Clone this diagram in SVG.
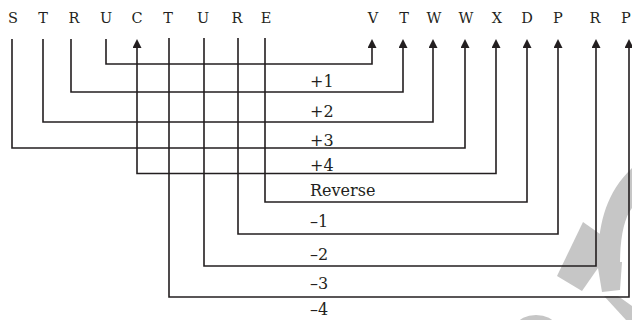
<svg xmlns="http://www.w3.org/2000/svg" width="632" height="320" viewBox="0 0 632 320">
<style>
.ln{fill:none;stroke:#231f20;stroke-width:1.6}
.ar{marker-end:url(#ah)}
.top{font-family:"DejaVu Serif","Liberation Serif",serif;font-size:14.5px;fill:#231f20;text-anchor:middle}
.lbl{font-family:"DejaVu Serif","Liberation Serif",serif;font-size:16px;fill:#231f20}
.wm{fill:#c6c6c6}
</style>
<defs>
<marker id="ah" markerUnits="userSpaceOnUse" viewBox="0 0 9 9" refX="0" refY="4.5" markerWidth="9" markerHeight="9" orient="auto-start-reverse">
<path d="M0,0 L9,4.5 L0,9 z" fill="#231f20"/>
</marker>
</defs>
<rect width="632" height="320" fill="#ffffff"/>
<g id="watermark">
<path class="wm" d="M597,265 C599,225 604,195 632,168 L632,208 C624,218 620,238 620,265 Z"/>
<polygon class="wm" points="583,222 600,234 598,268 582,291 557,276"/>
<polygon class="wm" points="597,262 622,262 620,290 602,292"/>
<polygon class="wm" points="604,296 618,296 632,306 632,320 626,320"/>
<ellipse class="wm" cx="536" cy="324" rx="18" ry="9"/>
</g>
<g id="source-letters">
<text class="top" x="13" y="23">S</text>
<text class="top" x="43" y="23">T</text>
<text class="top" x="74" y="23">R</text>
<text class="top" x="106" y="23">U</text>
<text class="top" x="137" y="23">C</text>
<text class="top" x="168" y="23">T</text>
<text class="top" x="203" y="23">U</text>
<text class="top" x="237" y="23">R</text>
<text class="top" x="266" y="23">E</text>
</g>
<g id="code-letters">
<text class="top" x="373" y="23">V</text>
<text class="top" x="404" y="23">T</text>
<text class="top" x="434" y="23">W</text>
<text class="top" x="466" y="23">W</text>
<text class="top" x="497" y="23">X</text>
<text class="top" x="527" y="23">D</text>
<text class="top" x="558" y="23">P</text>
<text class="top" x="595" y="23">R</text>
<text class="top" x="626" y="23">P</text>
</g>
<g id="connectors">
<path class="ln ar" d="M106,39 V64 H372 V48"/>
<path class="ln ar" d="M71,39 V92 H403 V48"/>
<path class="ln ar" d="M43,39 V122 H433 V48"/>
<path class="ln ar" d="M12,39 V148 H465 V48"/>
<path class="ln" d="M496,48 V173.5 H137 V48" marker-start="url(#ah)" marker-end="url(#ah)"/>
<path class="ln ar" d="M265,38 V202 H527 V48"/>
<path class="ln ar" d="M238,38 V234 H558 V48"/>
<path class="ln ar" d="M204,38 V266 H596 V48"/>
<path class="ln ar" d="M169,38 V297 H629 V48"/>
</g>
<g id="labels">
<text class="lbl" x="310" y="87">+1</text>
<text class="lbl" x="310" y="117">+2</text>
<text class="lbl" x="310" y="146">+3</text>
<text class="lbl" x="310" y="171">+4</text>
<text class="lbl" x="310" y="196">Reverse</text>
<text class="lbl" x="310" y="227">–1</text>
<text class="lbl" x="310" y="260">–2</text>
<text class="lbl" x="310" y="289">–3</text>
<text class="lbl" x="310" y="315">–4</text>
</g>
</svg>
